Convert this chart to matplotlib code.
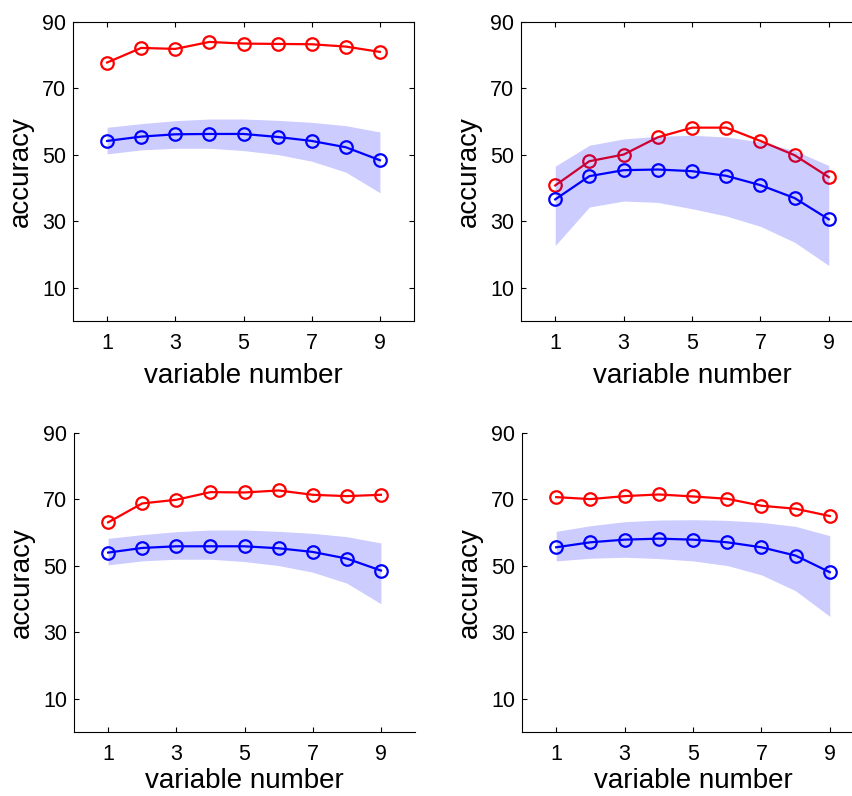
import matplotlib
matplotlib.use("Agg")
import matplotlib.pyplot as plt
import numpy as np

plt.rcParams['font.family'] = ['Liberation Sans', 'DejaVu Sans']

variables = [1, 2, 3, 4, 5, 6, 7, 8, 9]
xticks = [1, 3, 5, 7, 9]
yticks = [10, 30, 50, 70, 90]

# Panel A (top-left)
red_a = [77.8, 82.2, 81.9, 84.0, 83.5, 83.4, 83.3, 82.6, 81.0]
blue_a = [54.2, 55.5, 56.2, 56.3, 56.3, 55.4, 54.2, 52.3, 48.4]
upper_a = [58.3, 59.4, 60.3, 60.8, 60.8, 60.4, 59.8, 58.8, 56.9]
lower_a = [50.3, 51.5, 52.0, 52.0, 51.3, 50.1, 48.1, 44.8, 38.6]

# Panel B (top-right)
red_b = [40.8, 48.1, 50.1, 55.3, 58.2, 58.2, 54.2, 49.9, 43.3]
blue_b = [36.6, 43.6, 45.4, 45.6, 45.1, 43.7, 40.9, 37.0, 30.6]
upper_b = [46.6, 52.9, 54.8, 55.6, 55.9, 55.4, 53.9, 51.3, 46.8]
lower_b = [22.7, 34.3, 36.1, 35.7, 33.8, 31.6, 28.5, 23.7, 16.7]

# Panel C (bottom-left)
red_c = [63.1, 68.8, 69.9, 72.2, 72.1, 72.7, 71.4, 71.0, 71.4]
blue_c = [54.0, 55.4, 55.9, 55.9, 55.9, 55.3, 54.2, 52.2, 48.6]
upper_c = [58.3, 59.4, 60.3, 60.8, 60.8, 60.4, 59.8, 58.8, 56.9]
lower_c = [50.3, 51.5, 52.0, 52.0, 51.3, 50.1, 48.1, 44.8, 38.6]

# Panel D (bottom-right)
red_d = [70.7, 70.1, 71.0, 71.5, 70.9, 70.2, 68.1, 67.2, 65.0]
blue_d = [55.6, 57.1, 57.9, 58.2, 57.9, 57.1, 55.6, 53.1, 48.1]
upper_d = [60.4, 62.1, 63.3, 63.8, 63.9, 63.7, 63.1, 61.9, 59.1]
lower_d = [51.5, 52.3, 52.6, 52.2, 51.5, 50.1, 47.3, 42.5, 34.8]

W, H = 852, 796
fig = plt.figure(figsize=(W / 100, H / 100), dpi=100)

panels = [
    ((73, 22, 414, 321), red_a, blue_a, upper_a, lower_a, True),
    ((521, 22, 863, 321), red_b, blue_b, upper_b, lower_b, True),
    ((74, 433, 415, 732), red_c, blue_c, upper_c, lower_c, False),
    ((522, 433, 864, 732), red_d, blue_d, upper_d, lower_d, False),
]

for (x0, y0, x1, y1), red, blue, up, lo, box in panels:
    ax = fig.add_axes([x0 / W, 1 - y1 / H, (x1 - x0) / W, (y1 - y0) / H])
    ax.plot(variables, red, color='#ff0000', lw=1.6, marker='o', ms=9,
            mfc='none', mew=1.6, zorder=2)
    ax.fill_between(variables, lo, up, color='#0000ff', alpha=0.2, lw=0, zorder=3)
    ax.plot(variables, blue, color='#0000ff', lw=1.6, marker='o', ms=9,
            mfc='none', mew=1.6, zorder=4)
    ax.set_xlim(0, 10)
    ax.set_ylim(0, 90)
    ax.set_xticks(xticks)
    ax.set_yticks(yticks)
    ax.tick_params(direction='in', length=3.5, width=0.8, labelsize=15.5,
                   top=box, right=box)
    ax.tick_params(axis='x', pad=9)
    ax.tick_params(axis='y', pad=5)
    for s in ax.spines.values():
        s.set_linewidth(0.8)
    if not box:
        ax.spines['top'].set_visible(False)
        ax.spines['right'].set_visible(False)
    ax.set_xlabel('variable number', fontsize=20, labelpad=6 if box else 2)
    ax.set_ylabel('accuracy', fontsize=20, labelpad=6)

fig.savefig('out.png', dpi=100)
